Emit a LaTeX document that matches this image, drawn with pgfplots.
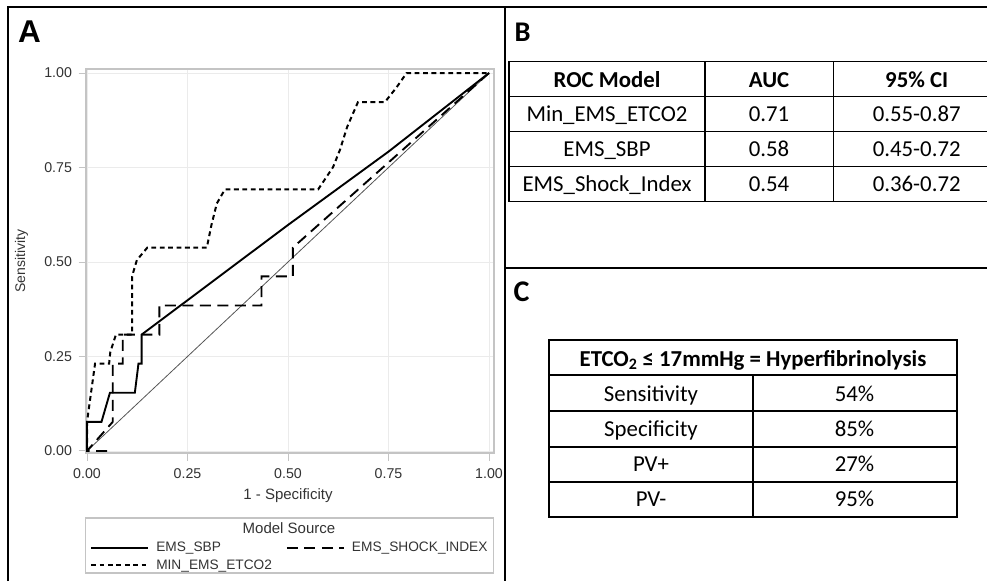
\documentclass[border=0pt]{standalone}
\usepackage{pgfplots}
\pgfplotsset{compat=1.18}
\usepackage{fontspec}
\setmainfont{Liberation Sans}
\newfontfamily\calfont{Carlito}
\definecolor{tickgray}{HTML}{333333}
\definecolor{framegray}{HTML}{C4C4C4}
\definecolor{gridgray}{HTML}{EBEBEB}
\definecolor{refgray}{HTML}{555555}
\newcommand{\tabfont}{\calfont\fontsize{22.8}{26}\selectfont}
\begin{document}
\begin{tikzpicture}[x=1pt,y=1pt]
\useasboundingbox (0,0) rectangle (987,581);
\begin{axis}[
  at={(86pt,128pt)}, anchor=south west,
  scale only axis, width=408pt, height=384pt,
  xmin=-0.0025, xmax=1.0124, ymin=-0.0053, ymax=1.0106,
  xtick={0,0.25,0.5,0.75,1}, ytick={0,0.25,0.5,0.75,1},
  tick pos=left, tick align=outside, major tick length=7.5pt,
  tick style={color=framegray, line width=1pt},
  axis line style={color=framegray, line width=1.2pt},
  grid=major, grid style={color=gridgray, line width=0.8pt},
  ticklabel style={font=\fontsize{14.2}{16}\selectfont, color=tickgray},
  xticklabel shift=5pt, yticklabel shift=3pt,
  /pgf/number format/.cd, fixed, fixed zerofill, precision=2, assume math mode=true,
  /pgfplots/.cd,
  xlabel={1 - Specificity},
  xlabel style={at={(axis description cs:0.495,-0.112)}, anchor=center, font=\fontsize{15}{17}\selectfont, color=tickgray},
  ylabel={Sensitivity},
  ylabel style={at={(axis description cs:-0.158,0.5)}, anchor=center, font=\fontsize{14}{16}\selectfont, color=tickgray},
  legend style={at={(axis description cs:0.01,-0.227)}, anchor=north west, draw=none, fill=none,
    inner sep=0pt, font=\fontsize{13.7}{15}\selectfont, text=tickgray,
    row sep=2.5pt,
    /tikz/every odd column/.append style={column sep=5pt},
    /tikz/every even column/.append style={column sep=12pt}},
  legend columns=2,
  legend cell align=left,
  legend image code/.code={\draw[#1, line width=2pt] (0pt,0pt) -- (57pt,0pt);},
]
\addplot[refgray, line width=0.8pt, forget plot] coordinates {(0,0) (1,1)};
\addplot[black, line width=1.9pt, line join=miter] coordinates {
 (0,0) (0,0.077) (0.036,0.077) (0.057,0.154) (0.119,0.154) (0.128,0.231)
 (0.136,0.231) (0.136,0.308) (0.5,0.598) (0.75,0.792) (1,1)};
\addlegendentry{EMS\_SBP}
\addplot[black, line width=1.9pt, dash pattern=on 11pt off 6.5pt] coordinates {
 (0.05,0) (0,0) (0.064,0.077) (0.064,0.231) (0.089,0.231) (0.089,0.308)
 (0.180,0.308) (0.180,0.385) (0.434,0.385) (0.434,0.462) (0.512,0.462)
 (0.512,0.538) (1,1)};
\addlegendentry{EMS\_SHOCK\_INDEX}
\addplot[black, line width=2pt, dash pattern=on 4.8pt off 3.6pt] coordinates {
 (0,0) (0,0.077) (0.010,0.154) (0.020,0.231) (0.055,0.231) (0.058,0.262)
 (0.072,0.308) (0.112,0.308) (0.112,0.462) (0.124,0.505) (0.150,0.538)
 (0.298,0.538) (0.310,0.600) (0.323,0.655) (0.343,0.692) (0.575,0.692)
 (0.612,0.751) (0.629,0.796) (0.647,0.857) (0.674,0.923) (0.741,0.923)
 (0.770,0.962) (0.795,1) (1,1)};
\addlegendentry{MIN\_EMS\_ETCO2}
\end{axis}
% legend frame and title
\draw[framegray, line width=1.2pt] (85.5,63) rectangle (493.5,8);
\node[anchor=base, inner sep=0pt, font=\fontsize{15}{17}\selectfont, text=tickgray] at (289,47.7) {Model Source};
% panel frames
\draw[black, line width=2pt] (8,0) -- (8,574) -- (990,574);
\draw[black, line width=2pt] (505,574) -- (505,0);
\draw[black, line width=2pt] (505,312.5) -- (990,312.5);
% panel letters
\node[anchor=base west, inner sep=0pt, font=\bfseries\fontsize{31.5}{34}\selectfont] at (18,538.3) {A};
\node[anchor=base west, inner sep=0pt, font=\calfont\bfseries\fontsize{28.5}{31}\selectfont] at (514.5,539.3) {B};
\node[anchor=base west, inner sep=0pt, font=\calfont\bfseries\fontsize{30}{33}\selectfont] at (513.5,279.3) {C};
% table B
\begin{scope}[line width=1.5pt]
\draw (509,519.3) rectangle (1000,379.3);
\foreach \y in {484.3,449.3,414.3} \draw (509,\y) -- (1000,\y);
\draw (705,519.3) -- (705,379.3);
\draw (833.3,519.3) -- (833.3,379.3);
\end{scope}
\begin{scope}[every node/.style={anchor=base, inner sep=0pt, font=\tabfont}]
\node at (607,493.8) {\bfseries ROC Model};
\node at (769,493.8) {\bfseries AUC};
\node at (916.7,493.8) {\bfseries 95\% CI};
\node at (607,459.3) {Min\_EMS\_ETCO2};
\node at (769,459.3) {0.71};
\node at (916.7,459.3) {0.55-0.87};
\node at (607,424.3) {EMS\_SBP};
\node at (769,424.3) {0.58};
\node at (916.7,424.3) {0.45-0.72};
\node at (607,389.3) {EMS\_Shock\_Index};
\node at (769,389.3) {0.54};
\node at (916.7,389.3) {0.36-0.72};
\end{scope}
% table C
\begin{scope}[line width=1.8pt]
\draw (549.3,241) rectangle (956.7,64.3);
\foreach \y in {206,170.3,134.3,99.3} \draw (549.3,\y) -- (956.7,\y);
\draw (752.7,206) -- (752.7,64.3);
\end{scope}
\begin{scope}[every node/.style={anchor=base, inner sep=0pt, font=\tabfont}]
\node at (753,214.5) {\bfseries ETCO\textsubscript{2} ≤ 17mmHg = Hyperfibrinolysis};
\node at (651,179.3) {Sensitivity};
\node at (854.5,179.3) {54\%};
\node at (651,144.3) {Specificity};
\node at (854.5,144.3) {85\%};
\node at (651,109.3) {PV+};
\node at (854.5,109.3) {27\%};
\node at (651,74.3) {PV-};
\node at (854.5,74.3) {95\%};
\end{scope}
\end{tikzpicture}
\end{document}
